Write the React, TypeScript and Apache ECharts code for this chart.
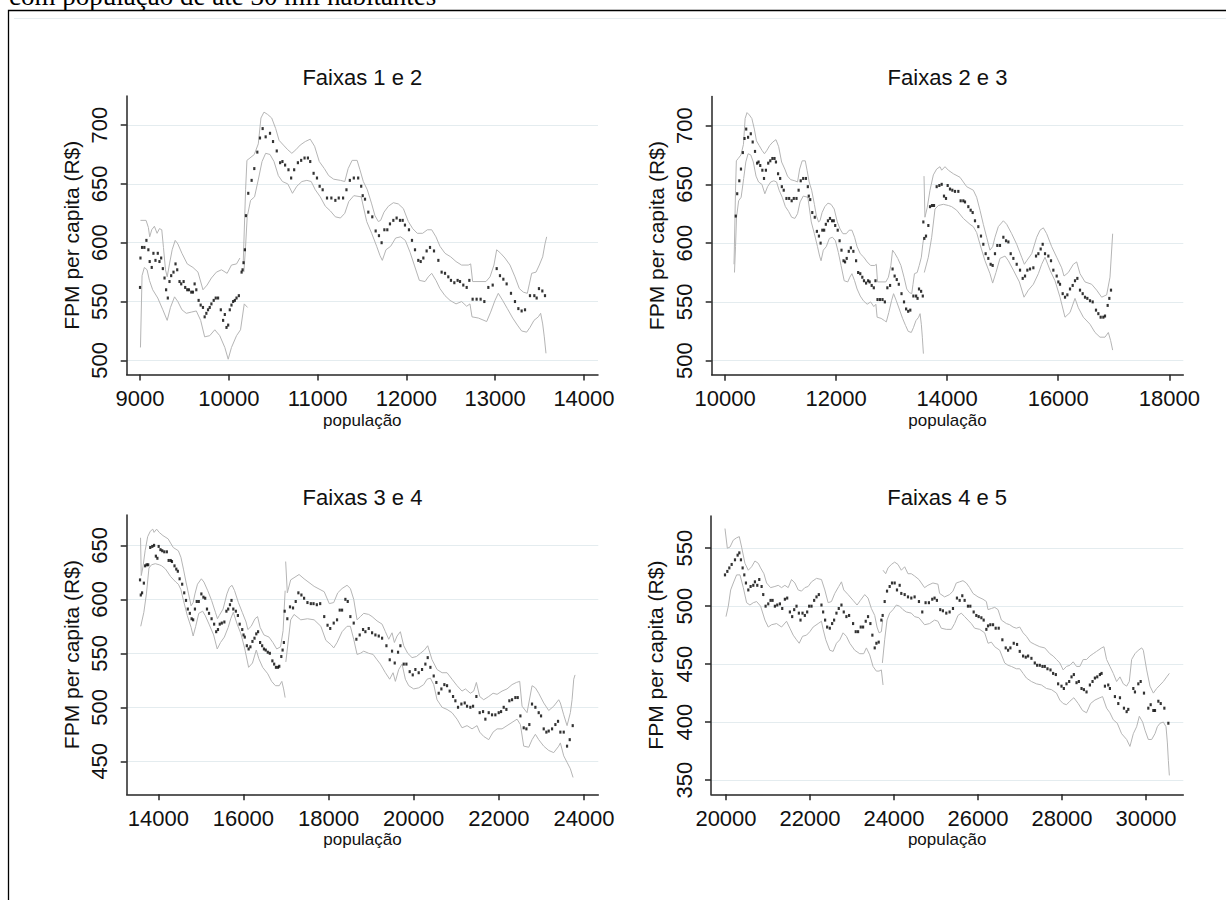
import React, { useEffect, useRef } from "react";
import * as echarts from "echarts";

// ---------- data (população, FPM per capita R$) ----------
const f1Dots = [[9000,562],[9005,587],[9023,596],[9049,596],[9072,602],[9094,594],[9109,584],[9132,579],[9151,591],[9174,585],[9200,591],[9219,584],[9238,587],[9257,578],[9276,570],[9294,560],[9313,553],[9332,567],[9351,572],[9377,575],[9400,582],[9419,577],[9445,567],[9464,565],[9491,567],[9509,562],[9532,560],[9551,560],[9577,558],[9596,558],[9615,565],[9634,560],[9660,551],[9683,547],[9709,545],[9728,537],[9747,540],[9766,543],[9785,545],[9804,548],[9830,551],[9853,553],[9879,553],[9910,543],[9936,534],[9955,539],[9974,528],[9993,530],[10011,543],[10030,547],[10049,550],[10068,551],[10087,553],[10113,555],[10144,575],[10155,577],[10166,583],[10181,594]];
const f1Up = [[9005,619],[9068,619],[9094,613],[9109,605],[9132,611],[9162,614],[9192,608],[9219,612],[9245,611],[9264,596],[9287,577],[9306,571],[9332,582],[9362,594],[9396,602],[9426,599],[9472,591],[9532,582],[9596,579],[9653,575],[9709,560],[9755,564],[9804,570],[9860,575],[9917,577],[9981,574],[10030,581],[10087,582],[10125,587]];
const f1Lo = [[9005,511],[9023,572],[9049,579],[9079,577],[9106,568],[9143,560],[9200,553],[9257,543],[9306,534],[9343,545],[9389,554],[9426,550],[9472,543],[9521,540],[9577,541],[9634,542],[9683,534],[9728,520],[9785,521],[9842,526],[9898,521],[9955,511],[9993,501],[10030,511],[10087,521],[10132,526],[10174,548],[10211,545]];

const f2Dots = [[10193,623],[10219,642],[10257,653],[10287,663],[10321,677],[10351,689],[10381,697],[10415,690],[10464,693],[10498,686],[10540,678],[10578,668],[10604,669],[10634,666],[10672,662],[10702,655],[10736,662],[10778,668],[10815,670],[10853,672],[10891,672],[10917,669],[10955,659],[10993,655],[11023,648],[11057,645],[11106,638],[11155,638],[11200,636],[11238,638],[11287,638],[11325,645],[11363,653],[11408,655],[11457,655],[11491,648],[11508,640],[11534,637],[11571,626],[11616,622],[11654,610],[11691,606],[11721,600],[11752,611],[11785,611],[11815,616],[11853,619],[11890,621],[11928,619],[11958,619],[11984,615],[12029,611],[12063,602],[12097,594],[12134,585],[12161,584],[12191,587],[12228,593],[12266,596],[12311,593],[12360,585],[12397,575],[12435,574],[12472,571],[12502,568],[12540,566],[12577,568],[12604,567],[12641,564],[12679,562],[12709,568],[12746,552],[12791,552],[12836,552],[12878,550],[12923,562],[12972,564],[13017,578],[13054,572],[13092,569],[13129,565],[13178,557],[13223,550],[13261,544],[13298,542],[13336,543],[13392,555],[13441,555],[13467,553],[13493,561],[13531,559],[13561,555]];
const f2Up = [[10162,582],[10189,645],[10204,670],[10238,672],[10287,675],[10332,684],[10362,706],[10396,711],[10438,709],[10483,706],[10528,697],[10566,687],[10615,683],[10664,679],[10710,676],[10755,679],[10804,683],[10861,686],[10917,688],[10966,682],[11019,669],[11076,663],[11125,657],[11181,654],[11257,653],[11306,652],[11344,663],[11389,670],[11445,670],[11477,662],[11515,652],[11560,645],[11609,633],[11646,623],[11684,618],[11710,619],[11748,626],[11797,631],[11853,634],[11909,633],[11966,629],[12022,618],[12071,612],[12123,608],[12183,608],[12236,611],[12285,611],[12333,605],[12378,597],[12435,591],[12499,588],[12559,584],[12622,581],[12697,581],[12724,582],[12746,567],[12896,567],[12942,571],[12986,581],[13017,594],[13062,591],[13110,587],[13167,581],[13223,571],[13272,561],[13317,558],[13362,557],[13385,565],[13411,574],[13460,575],[13497,581],[13535,588],[13561,599],[13580,605]];
const f2Lo = [[10170,575],[10189,597],[10207,622],[10245,636],[10290,639],[10336,655],[10374,669],[10415,676],[10464,675],[10509,669],[10558,657],[10604,652],[10664,650],[10717,642],[10766,648],[10823,652],[10879,653],[10928,652],[10974,645],[11030,639],[11087,631],[11144,627],[11200,622],[11257,621],[11306,625],[11351,635],[11408,640],[11491,639],[11553,618],[11609,608],[11665,597],[11703,589],[11729,585],[11770,594],[11823,597],[11879,604],[11935,605],[11988,602],[12041,592],[12089,581],[12146,568],[12210,567],[12247,571],[12285,574],[12333,568],[12378,561],[12435,555],[12491,551],[12559,548],[12622,550],[12679,546],[12716,548],[12739,537],[12810,536],[12874,534],[12904,533],[12949,541],[12998,551],[13035,557],[13084,551],[13137,544],[13197,536],[13250,530],[13298,525],[13354,524],[13392,528],[13437,534],[13486,537],[13512,540],[13535,531],[13553,520],[13572,506]];

const f3Dots = [[13571,618],[13589,604],[13619,606],[13661,615],[13691,631],[13727,632],[13763,632],[13811,648],[13859,649],[13901,650],[13943,640],[13979,638],[14009,649],[14051,646],[14093,645],[14141,644],[14201,644],[14243,636],[14291,636],[14321,635],[14381,631],[14423,628],[14459,626],[14501,619],[14561,614],[14609,606],[14651,599],[14693,591],[14741,587],[14783,582],[14819,581],[14861,591],[14903,598],[14951,598],[15012,605],[15060,602],[15102,601],[15144,591],[15192,587],[15252,582],[15312,577],[15360,570],[15402,572],[15444,577],[15492,578],[15552,579],[15600,589],[15642,591],[15684,595],[15720,599],[15762,591],[15822,589],[15870,585],[15912,577],[15972,572],[16002,567],[16032,565],[16080,557],[16122,554],[16164,556],[16212,561],[16260,564],[16302,568],[16344,570],[16392,560],[16440,557],[16482,554],[16524,553],[16572,551],[16620,550],[16680,543],[16722,540],[16764,537],[16812,537],[16842,538],[16890,547],[16920,553],[16950,560]];
const f3Up = [[13583,657],[13600,622],[13640,630],[13691,645],[13751,658],[13811,663],[13871,665],[13901,662],[13961,665],[14021,662],[14111,659],[14231,656],[14351,648],[14471,645],[14531,639],[14591,628],[14651,616],[14711,605],[14771,594],[14819,597],[14861,605],[14921,614],[15012,619],[15072,616],[15162,608],[15252,599],[15342,588],[15390,582],[15432,585],[15522,591],[15612,605],[15672,611],[15732,613],[15792,608],[15882,597],[15972,588],[16062,579],[16104,572],[16182,575],[16272,582],[16332,584],[16392,574],[16482,567],[16602,565],[16692,560],[16782,554],[16872,556],[16932,571],[16980,608]];
const f3Lo = [[13588,575],[13661,588],[13721,605],[13781,629],[13841,632],[13931,633],[14021,632],[14081,631],[14171,628],[14291,621],[14411,616],[14471,614],[14531,609],[14591,599],[14681,585],[14771,574],[14819,566],[14879,575],[14951,587],[15042,589],[15102,585],[15192,577],[15300,567],[15384,554],[15462,560],[15552,565],[15642,574],[15702,582],[15762,588],[15852,577],[15942,568],[16032,554],[16122,537],[16212,541],[16302,553],[16362,545],[16452,537],[16572,531],[16662,524],[16752,520],[16842,520],[16902,524],[16944,517],[16980,509]];

const f4Dots = [[16969,589],[17031,582],[17094,593],[17165,592],[17228,598],[17291,606],[17362,604],[17425,601],[17504,597],[17583,596],[17646,596],[17724,595],[17803,596],[17898,584],[17976,576],[18039,573],[18121,578],[18199,581],[18262,590],[18317,590],[18395,600],[18450,598],[18512,584],[18591,578],[18653,563],[18731,567],[18810,572],[18865,570],[18943,573],[19022,569],[19100,567],[19179,566],[19257,564],[19359,557],[19437,544],[19491,552],[19554,541],[19632,551],[19687,557],[19765,540],[19828,540],[19906,533],[19977,530],[20039,535],[20117,532],[20196,535],[20274,540],[20329,546],[20392,537],[20470,529],[20532,523],[20587,513],[20650,517],[20720,521],[20783,520],[20845,515],[20924,510],[20979,506],[21041,500],[21120,503],[21198,504],[21253,501],[21331,500],[21394,501],[21472,510],[21550,495],[21629,496],[21683,489],[21762,495],[21840,493],[21918,493],[21997,495],[22052,496],[22114,500],[22177,498],[22247,506],[22310,507],[22388,509],[22443,509],[22506,492],[22584,481],[22647,480],[22716,484],[22779,503],[22858,500],[22936,495],[22991,492],[23054,480],[23116,477],[23171,478],[23250,480],[23328,484],[23390,487],[23445,477],[23524,477],[23602,464],[23665,470],[23735,483]];
const f4Up = [[16992,635],[17031,606],[17110,618],[17307,623],[17425,619],[17661,612],[17898,607],[18016,596],[18121,597],[18215,606],[18317,610],[18434,613],[18512,610],[18591,600],[18669,581],[18747,584],[18826,587],[18943,586],[19022,584],[19139,580],[19257,577],[19335,570],[19413,563],[19491,569],[19546,560],[19609,566],[19687,570],[19765,557],[19859,550],[19961,546],[20063,547],[20157,550],[20251,553],[20329,557],[20431,544],[20548,535],[20666,532],[20783,532],[20900,526],[21018,520],[21135,515],[21214,517],[21331,513],[21409,515],[21472,523],[21550,510],[21644,507],[21762,510],[21864,513],[21958,512],[22075,515],[22192,517],[22310,521],[22412,523],[22490,524],[22545,501],[22662,495],[22780,520],[22858,518],[22936,513],[23054,504],[23171,497],[23289,501],[23406,507],[23445,504],[23524,493],[23602,483],[23680,495],[23720,507],[23759,526],[23790,530]];
const f4Lo = [[16996,542],[17110,581],[17189,586],[17347,581],[17504,582],[17661,581],[17819,575],[17937,562],[18055,558],[18121,555],[18199,560],[18317,570],[18434,575],[18512,575],[18591,563],[18669,549],[18747,550],[18826,552],[18943,550],[19045,549],[19139,544],[19217,540],[19335,532],[19436,526],[19515,532],[19569,524],[19648,535],[19726,540],[19804,526],[19883,520],[20000,517],[20117,518],[20235,521],[20313,526],[20392,527],[20470,521],[20548,507],[20666,500],[20783,498],[20900,495],[21018,489],[21135,481],[21253,483],[21370,480],[21488,483],[21550,477],[21644,473],[21762,470],[21864,477],[21958,480],[22075,480],[22192,483],[22310,486],[22427,489],[22506,484],[22584,464],[22702,463],[22780,470],[22858,475],[22936,470],[23054,464],[23171,460],[23289,458],[23406,464],[23445,467],[23524,455],[23602,449],[23680,443],[23743,435]];

const f4bDots = [[19976,527],[20032,530],[20079,533],[20135,536],[20214,540],[20277,544],[20317,546],[20356,540],[20396,533],[20436,527],[20475,520],[20531,514],[20586,517],[20650,518],[20689,521],[20745,518],[20792,523],[20848,517],[20887,510],[20943,500],[21006,502],[21061,505],[21109,505],[21164,500],[21220,501],[21283,502],[21339,498],[21402,506],[21457,507],[21521,495],[21576,491],[21624,497],[21679,500],[21735,494],[21774,488],[21822,494],[21877,492],[21933,495],[21980,500],[22036,500],[22099,505],[22155,508],[22210,510],[22273,501],[22313,495],[22360,488],[22408,482],[22471,481],[22527,485],[22574,488],[22630,494],[22685,498],[22749,501],[22804,495],[22867,491],[22931,492],[23026,485],[23089,478],[23145,478],[23208,482],[23264,482],[23327,487],[23382,491],[23438,485],[23485,475],[23541,464],[23581,468],[23636,469]];
const f4bUp = [[19976,567],[20032,550],[20095,551],[20174,557],[20253,559],[20317,560],[20372,551],[20451,537],[20531,531],[20610,534],[20689,539],[20768,537],[20824,533],[20903,528],[20966,520],[21061,516],[21164,517],[21244,518],[21323,516],[21402,518],[21481,516],[21560,523],[21640,520],[21719,514],[21798,513],[21877,516],[21956,517],[22036,521],[22155,524],[22273,523],[22353,514],[22432,503],[22511,504],[22590,511],[22685,517],[22749,521],[22804,514],[22907,510],[23026,505],[23121,501],[23200,505],[23303,510],[23382,507],[23461,498],[23541,492],[23596,482],[23644,477],[23699,478],[23731,488]];
const f4bLo = [[20000,491],[20055,500],[20111,514],[20174,520],[20253,527],[20333,527],[20412,516],[20491,503],[20570,501],[20650,503],[20729,504],[20824,500],[20927,488],[21006,482],[21085,484],[21204,485],[21323,482],[21442,487],[21521,481],[21600,475],[21679,471],[21743,468],[21822,474],[21917,475],[21996,478],[22075,482],[22194,485],[22273,487],[22313,480],[22376,471],[22471,462],[22551,461],[22630,468],[22709,471],[22788,477],[22867,474],[22947,468],[23065,462],[23184,459],[23279,459],[23343,464],[23422,458],[23501,448],[23580,444],[23644,444],[23699,445],[23739,432]];

const f5Dots = [[23699,488],[23730,492],[23778,504],[23834,513],[23897,517],[23953,520],[24016,520],[24071,514],[24135,518],[24174,511],[24254,510],[24333,508],[24412,507],[24491,508],[24594,504],[24673,495],[24752,503],[24831,503],[24911,506],[24966,507],[25022,505],[25101,497],[25165,496],[25245,494],[25324,495],[25404,498],[25499,507],[25563,505],[25626,509],[25682,505],[25761,500],[25817,500],[25897,495],[25960,492],[26016,491],[26080,490],[26135,488],[26199,480],[26239,483],[26294,484],[26358,484],[26421,481],[26493,481],[26580,471],[26660,464],[26716,462],[26771,464],[26851,468],[26930,467],[26994,461],[27074,457],[27137,456],[27193,457],[27272,455],[27352,451],[27408,449],[27471,449],[27535,448],[27590,448],[27654,446],[27726,445],[27789,442],[27853,441],[27908,433],[27988,431],[28044,429],[28107,433],[28171,435],[28227,439],[28282,441],[28346,434],[28401,435],[28465,429],[28521,428],[28584,426],[28664,432],[28727,435],[28783,438],[28839,439],[28902,441],[28942,442],[29022,431],[29101,432],[29141,429],[29260,422],[29340,416],[29380,421],[29475,412],[29539,409],[29578,411],[29698,429],[29737,426],[29817,433],[29873,435],[29952,425],[30055,412],[30111,415],[30175,410],[30214,410],[30294,418],[30350,416],[30437,412],[30532,399]];
const f5Up = [[23739,531],[23802,528],[23858,533],[23937,536],[24016,538],[24095,536],[24174,531],[24254,534],[24333,528],[24412,528],[24491,526],[24594,523],[24728,516],[24807,518],[24926,520],[25046,519],[25086,511],[25205,508],[25324,510],[25404,513],[25483,520],[25563,521],[25642,522],[25722,520],[25801,516],[25881,511],[26000,508],[26119,506],[26199,504],[26239,497],[26318,498],[26398,499],[26477,497],[26557,488],[26676,485],[26755,484],[26835,482],[26914,481],[26994,482],[27074,477],[27153,474],[27248,469],[27352,467],[27471,465],[27590,464],[27710,459],[27789,457],[27869,454],[27948,451],[28028,445],[28107,448],[28187,449],[28266,452],[28346,448],[28425,448],[28505,454],[28584,454],[28664,457],[28743,459],[28823,461],[28942,464],[28998,465],[29062,454],[29141,448],[29221,442],[29300,435],[29380,439],[29459,433],[29539,431],[29602,435],[29658,454],[29737,459],[29817,462],[29897,464],[29936,462],[30016,445],[30095,431],[30175,425],[30254,429],[30334,432],[30413,435],[30493,439],[30556,442]];
const f5Lo = [[23723,451],[23778,471],[23834,488],[23897,494],[23976,497],[24056,501],[24135,500],[24214,497],[24293,495],[24412,494],[24491,491],[24594,490],[24728,484],[24847,485],[24966,488],[25046,487],[25125,481],[25245,480],[25364,480],[25443,485],[25523,492],[25602,494],[25682,491],[25761,488],[25841,485],[25920,481],[26040,480],[26159,477],[26239,468],[26318,469],[26398,465],[26517,462],[26636,451],[26716,449],[26795,448],[26914,446],[26994,446],[27074,442],[27153,438],[27272,435],[27392,433],[27511,432],[27630,429],[27749,428],[27869,425],[27948,419],[28028,416],[28107,415],[28187,418],[28282,421],[28386,416],[28489,410],[28584,408],[28680,416],[28783,419],[28902,421],[28966,422],[29062,412],[29141,408],[29221,402],[29316,399],[29419,390],[29539,385],[29618,379],[29698,390],[29777,396],[29841,405],[29920,400],[29976,393],[30055,385],[30135,385],[30214,390],[30270,396],[30334,399],[30413,400],[30477,396],[30509,382],[30532,367],[30556,354]];

const titles = ["Faixas 1 e 2", "Faixas 2 e 3", "Faixas 3 e 4", "Faixas 4 e 5"];
const xTicks = [
  [9000, 10000, 11000, 12000, 13000, 14000],
  [10000, 12000, 14000, 16000, 18000],
  [14000, 16000, 18000, 20000, 22000, 24000],
  [20000, 22000, 24000, 26000, 28000, 30000],
];
const yTicks = [
  [500, 550, 600, 650, 700],
  [500, 550, 600, 650, 700],
  [450, 500, 550, 600, 650],
  [350, 400, 450, 500, 550],
];
const xRange = [[8850, 14158], [9760, 18252], [13258, 24336], [19643, 30888]];
const yRange = [[488, 724.7], [488, 724.7], [419.4, 678.1], [337.7, 577.8]];
const segments = [
  [[f1Dots, f1Up, f1Lo], [f2Dots, f2Up, f2Lo]],
  [[f2Dots, f2Up, f2Lo], [f3Dots, f3Up, f3Lo]],
  [[f3Dots, f3Up, f3Lo], [f4Dots, f4Up, f4Lo]],
  [[f4bDots, f4bUp, f4bLo], [f5Dots, f5Up, f5Lo]],
];
const headerText = "com população de até 30 mil habitantes";
const xName = "população";
const yName = "FPM per capita (R$)";

// ---------- layout ----------
const gridBoxes = [
  { left: 126.7, top: 96, width: 471.3, height: 278.5 },
  { left: 711.7, top: 96.5, width: 471.6, height: 278.3 },
  { left: 126.7, top: 515, width: 471.6, height: 279.3 },
  { left: 711, top: 516, width: 472.3, height: 278.3 },
];
const titleY = [77, 77, 497, 497];

const SANS = "'Liberation Sans', Arial, sans-serif";
const AXIS_COLOR = "#262626";
const TEXT_COLOR = "#111111";
const CI_COLOR = "#b5b5b5";
const GRID_COLOR = "#e4ecef";

export default function App() {
  const ref = useRef<HTMLDivElement>(null);
  useEffect(() => {
    if (!ref.current) return;
    const chart = echarts.init(ref.current, undefined, { renderer: "svg" });
    const grid: any[] = [];
    const xAxis: any[] = [];
    const yAxis: any[] = [];
    const series: any[] = [];
    const graphic: any[] = [];

    graphic.push({
      type: "rect",
      shape: { x: 8.5, y: 10.5, width: 1400, height: 1000 },
      style: { fill: "none", stroke: "#000", lineWidth: 1.3 },
      silent: true,
    });
    graphic.push({
      type: "line",
      shape: { x1: 14, y1: 18.5, x2: 1226, y2: 18.5 },
      style: { stroke: "#e6edf0", lineWidth: 1 },
      silent: true,
    });
    graphic.push({
      type: "text",
      x: 9,
      y: 9,
      style: {
        text: headerText,
        fontSize: 27,
        fontFamily: "'Liberation Serif', 'Times New Roman', serif",
        fill: "#000",
        align: "left",
        verticalAlign: "bottom",
      },
      silent: true,
    });

    for (let i = 0; i < 4; i++) {
      const g = gridBoxes[i];
      grid.push({ ...g, containLabel: false, outerBoundsMode: "none" });
      graphic.push({
        type: "text",
        x: g.left + g.width / 2,
        y: titleY[i],
        style: {
          text: titles[i],
          fontSize: 22,
          fontFamily: SANS,
          fill: TEXT_COLOR,
          align: "center",
          verticalAlign: "middle",
        },
        silent: true,
      });
      xAxis.push({
        type: "value",
        gridIndex: i,
        min: xRange[i][0],
        max: xRange[i][1],
        axisLine: { show: true, onZero: false, lineStyle: { color: AXIS_COLOR, width: 1.5 } },
        axisTick: { show: true, length: 6, lineStyle: { color: AXIS_COLOR, width: 1.5 }, customValues: xTicks[i] },
        axisLabel: {
          customValues: xTicks[i],
          formatter: (v: number) => String(v),
          fontSize: 22,
          fontFamily: SANS,
          color: TEXT_COLOR,
          margin: 13,
        },
        splitLine: { show: false },
        name: xName,
        nameLocation: "middle",
        nameGap: 37,
        nameTextStyle: { fontSize: 17, fontFamily: SANS, color: TEXT_COLOR },
      });
      yAxis.push({
        type: "value",
        gridIndex: i,
        min: yRange[i][0],
        max: yRange[i][1],
        axisLine: { show: true, onZero: false, lineStyle: { color: AXIS_COLOR, width: 1.5 } },
        axisTick: { show: true, length: 6, lineStyle: { color: AXIS_COLOR, width: 1.5 }, customValues: yTicks[i] },
        axisLabel: {
          customValues: yTicks[i],
          formatter: (v: number) => String(v),
          rotate: 90,
          fontSize: 22,
          fontFamily: SANS,
          color: TEXT_COLOR,
          margin: 16,
        },
        splitLine: { show: true, lineStyle: { color: GRID_COLOR, width: 1 } },
        name: yName,
        nameLocation: "middle",
        nameGap: 45,
        nameTextStyle: { fontSize: 21, fontFamily: SANS, color: TEXT_COLOR },
      });
      const segs = segments[i];
      for (const [, up, lo] of segs) {
        for (const band of [up, lo]) {
          series.push({
            type: "line",
            xAxisIndex: i,
            yAxisIndex: i,
            data: band,
            showSymbol: false,
            symbol: "none",
            lineStyle: { color: CI_COLOR, width: 1 },
            silent: true,
            z: 2,
          });
        }
      }
      series.push({
        type: "scatter",
        xAxisIndex: i,
        yAxisIndex: i,
        data: [...segs[0][0], ...segs[1][0]],
        symbol: "rect",
        symbolSize: [2.2, 3],
        itemStyle: { color: "#000" },
        silent: true,
        z: 3,
      });
    }

    chart.setOption({
      animation: false,
      backgroundColor: "#ffffff",
      grid,
      xAxis,
      yAxis,
      series,
      graphic,
    });
    return () => chart.dispose();
  }, []);
  return (
    <div
      ref={ref}
      style={{ position: "absolute", left: 0, top: 0, width: 1226, height: 900, background: "#fff" }}
    />
  );
}
